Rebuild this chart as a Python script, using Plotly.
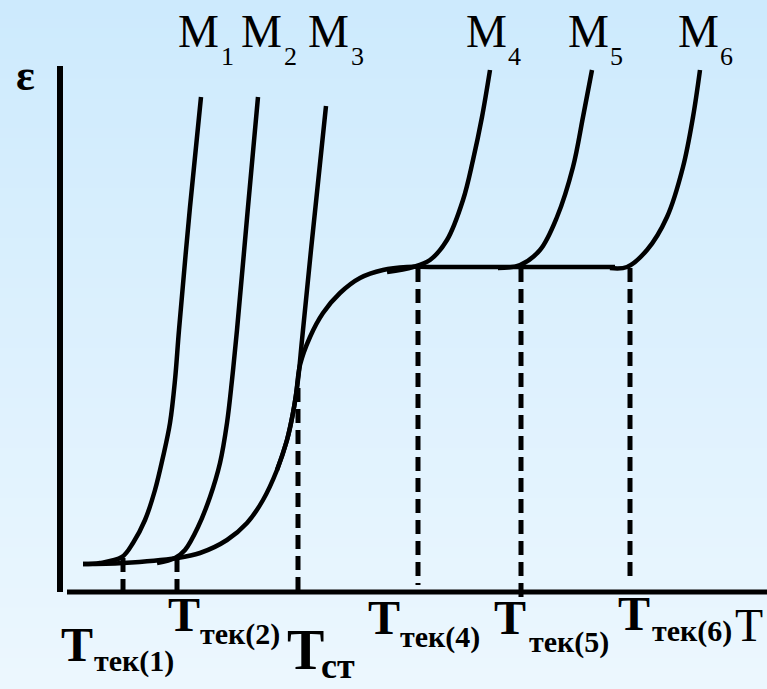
import plotly.graph_objects as go

# ---- data (T in arbitrary units, eps in arbitrary units) ----
base_T = [23, 63, 117, 140, 167, 187, 203, 217, 227, 233, 236, 240, 250, 263, 280, 300, 323, 347, 370, 555]
base_E = [28, 29, 34, 39, 52, 69, 92, 122, 152, 179, 197, 227, 255, 279, 299, 314, 322, 325, 325, 325]

m1_T = [23, 40, 62, 73, 85, 95, 103, 110, 115, 119, 130, 141]
m1_E = [28, 29, 35, 49, 72, 102, 135, 169, 212, 262, 385, 495]

m2_T = [97, 115, 125, 138, 150, 160, 167, 172, 177, 188, 198]
m2_E = [29, 34, 42, 65, 95, 129, 169, 212, 262, 385, 495]

m3_T = [217, 227, 233, 238, 242, 251, 266]
m3_E = [122, 152, 179, 212, 252, 342, 486]

m4_T = [327, 353, 370, 387, 403, 413, 422, 430]
m4_E = [320, 325, 332, 352, 392, 432, 475, 522]

m5_T = [438, 460, 480, 497, 513, 523, 532]
m5_E = [324, 327, 342, 375, 425, 475, 522]

m6_T = [550, 567, 587, 607, 623, 633, 640]
m6_E = [324, 325, 342, 375, 425, 475, 522]

# dashed markers: T position, top eps, bottom eps
drop_T = [63, 117, 238, 358, 461, 570]
drop_top = [34, 34, 204, 324, 324, 324]
drop_bot = [-6, 0, 0, 7, -5, 10]

curve_names = ["M1", "M2", "M3", "M4", "M5", "M6"]
sub_labels = ["тек(1)", "тек(2)", "тек(4)", "тек(5)", "тек(6)"]

fig = go.Figure()

# background gradient
top = (205, 234, 253)
bot = (236, 247, 254)
n = 69
for i in range(n):
    f = i / (n - 1)
    c = tuple(round(top[k] + (bot[k] - top[k]) * f) for k in range(3))
    fig.add_shape(type="rect", xref="paper", yref="paper",
                  x0=0, x1=1, y0=1 - (i + 1) / n, y1=1 - i / n + 0.002,
                  fillcolor="rgb(%d,%d,%d)" % c, line_width=0, layer="below")

line = dict(color="black", width=4.5, shape="spline", smoothing=1.0)

# axes
fig.add_trace(go.Scatter(x=[0, 0], y=[0, 526], mode="lines",
                         line=dict(color="black", width=6), hoverinfo="skip"))
fig.add_trace(go.Scatter(x=[7, 707], y=[0, 0], mode="lines",
                         line=dict(color="black", width=5), hoverinfo="skip"))

# dashed verticals
for t, a, b in zip(drop_T, drop_top, drop_bot):
    fig.add_trace(go.Scatter(x=[t, t], y=[a, b], mode="lines",
                             line=dict(color="black", width=5, dash="14px,7px"),
                             hoverinfo="skip"))

for xs, ys in [(base_T, base_E), (m1_T, m1_E), (m2_T, m2_E), (m3_T, m3_E),
               (m4_T, m4_E), (m5_T, m5_E), (m6_T, m6_E)]:
    fig.add_trace(go.Scatter(x=xs, y=ys, mode="lines", line=line, hoverinfo="skip"))

serif = "'Liberation Serif', 'Times New Roman', Times, 'DejaVu Serif', serif"
ann = []

def A(text, x, y, size, bold=False, anchor="left"):
    if bold:
        text = "<b>" + text + "</b>"
    ann.append(dict(text=text, x=x, y=y, xref="x", yref="y", xanchor=anchor,
                    yanchor="middle", showarrow=False,
                    font=dict(family=serif, size=size, color="black")))

# epsilon
A("ε", -46, 517, 44, bold=True)

# M labels
m_x = [116, 179, 246, 404, 506, 616]
s_x = [159, 222, 289, 446, 548, 658]
for name, mx, sx in zip(curve_names, m_x, s_x):
    A(name[0], mx, 561, 46)
    A(name[1], sx, 536, 26)

# T labels
T_pos = [(-1, -52, 32, -69), (106, -22, 138, -42), (306, -25, 338, -45),
         (432, -25, 467, -50), (556, -21, 590, -39)]
for lab, (tx, ty, sx, sy) in zip(sub_labels, T_pos):
    A("T", tx, ty, 48, bold=True)
    A(lab, sx, sy, 30, bold=True)

A("T", 225, -58, 56, bold=True)
A("ст", 259, -74, 36, bold=True)
A("T", 705, -33, 46, anchor="right")

fig.update_layout(
    width=767, height=689, margin=dict(l=0, r=0, t=0, b=0),
    paper_bgcolor="rgb(220,240,253)", plot_bgcolor="rgba(0,0,0,0)",
    showlegend=False, annotations=ann,
    xaxis=dict(range=[-60, 707], visible=False, fixedrange=True),
    yaxis=dict(range=[-97, 592], visible=False, fixedrange=True),
)

fig.write_html("out.html", config={"displayModeBar": False},
               post_script="document.body.style.margin='0';document.documentElement.style.margin='0';")
